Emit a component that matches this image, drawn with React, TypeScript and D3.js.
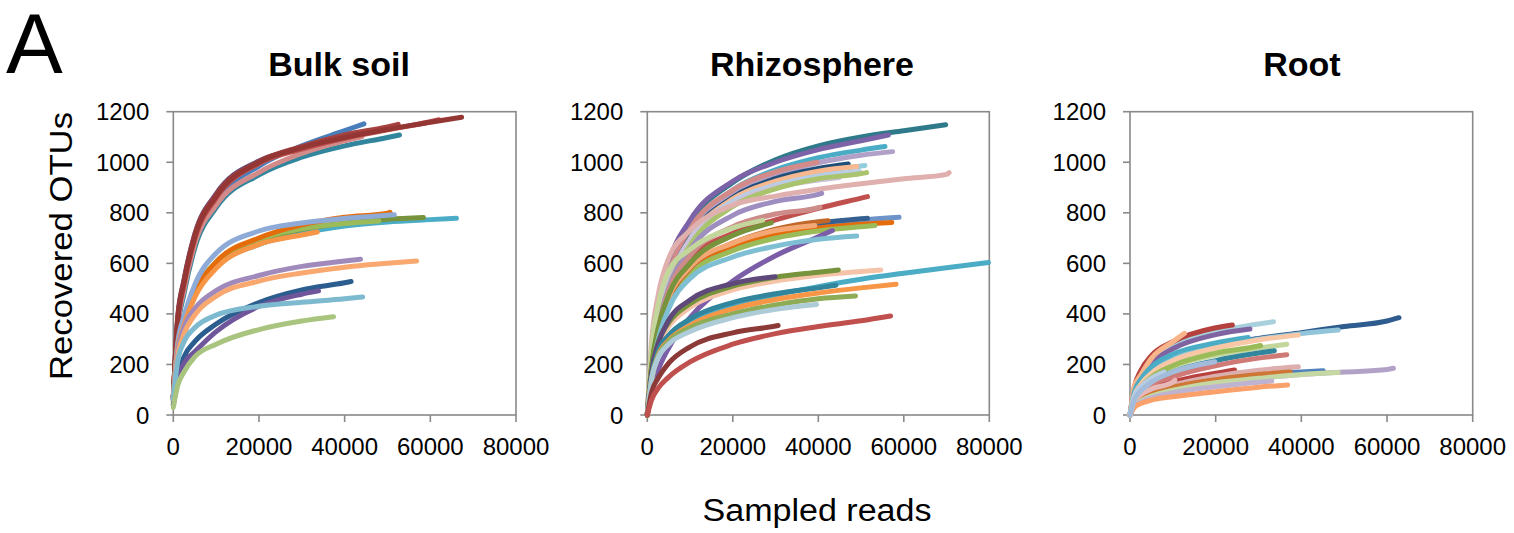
import { line, curveMonotoneX, scaleLinear } from "d3";

// sampled-read positions the curve values below are read at
const GRID = [0, 1000, 2500, 5000, 10000, 20000, 30000, 40000, 50000, 60000, 70000];

const X_TICKS = [0, 20000, 40000, 60000, 80000];
const Y_TICKS = [0, 200, 400, 600, 800, 1000, 1200];
const TITLES = ["Bulk soil", "Rhizosphere", "Root"];

// Bulk soil
const bulkEnds = [44500, 33000, 52800, 44000, 62000, 52500, 67300, 66100, 58400, 48000, 50600, 51600, 33600, 43700, 56800, 41500, 33900, 44200, 37400];
const bulkOtus = [
  [70, 340, 495, 680, 845, 985, 1065, 1125, 1152],
  [70, 380, 535, 715, 875, 1005, 1055, 1075],
  [70, 330, 480, 660, 820, 950, 1020, 1065, 1098, 1108],
  [70, 345, 495, 675, 830, 960, 1035, 1085, 1101],
  [70, 360, 515, 695, 858, 995, 1052, 1095, 1128, 1160, 1168],
  [70, 375, 530, 710, 870, 1002, 1062, 1108, 1140, 1150],
  [70, 370, 525, 705, 865, 1000, 1058, 1098, 1130, 1158, 1178],
  [60, 260, 360, 470, 585, 675, 720, 748, 764, 773, 778],
  [60, 265, 370, 485, 600, 690, 735, 760, 774, 781],
  [60, 270, 375, 490, 605, 695, 737, 758, 768],
  [60, 265, 370, 485, 605, 700, 752, 782, 798, 802],
  [60, 280, 390, 515, 640, 728, 760, 778, 790, 792],
  [50, 255, 355, 465, 580, 675, 712, 724],
  [60, 240, 345, 420, 492, 552, 588, 609, 616],
  [50, 225, 320, 395, 470, 530, 562, 585, 600, 609],
  [40, 150, 230, 290, 360, 445, 495, 523, 528],
  [40, 140, 205, 250, 330, 430, 478, 491],
  [60, 210, 290, 345, 395, 430, 446, 460, 467],
  [30, 115, 170, 230, 280, 338, 372, 389],
];
const bulkColors = ["#4a7ebb", "#604a7b", "#31859c", "#d38b89", "#c0504d", "#a5423f", "#943634", "#4bacc6", "#77933c", "#9bbb59", "#e46c0a", "#8eaad6", "#f79646", "#9f8abb", "#f9a86f", "#2c5d8f", "#6f559a", "#7dbad0", "#a9c47f"];

// Rhizosphere
const rhizoEnds = [69800, 56400, 55600, 57400, 39700, 47000, 50900, 49000, 49700, 45000, 51300, 70600, 40800, 51500, 40400, 27000, 58900, 51500, 57200, 53300, 42300, 39200, 29000, 43300, 49000, 79800, 54600, 44700, 29900, 44100, 58200, 48700, 39600, 30600, 56900];
const rhizoOtus = [
  [0, 235, 410, 585, 760, 920, 1010, 1065, 1100, 1125, 1148],
  [0, 240, 420, 600, 770, 925, 1000, 1050, 1085, 1108],
  [0, 220, 380, 550, 730, 890, 970, 1018, 1048, 1062],
  [0, 210, 370, 535, 710, 870, 950, 998, 1028, 1042],
  [0, 220, 385, 555, 735, 890, 962, 1000],
  [0, 200, 355, 520, 700, 860, 935, 975, 993],
  [0, 200, 355, 515, 690, 850, 920, 960, 985, 987],
  [0, 205, 360, 520, 695, 855, 925, 965, 983],
  [0, 210, 365, 525, 695, 845, 910, 945, 963],
  [0, 215, 370, 525, 690, 835, 900, 930, 940],
  [0, 195, 345, 500, 670, 825, 895, 935, 955, 959],
  [0, 290, 470, 620, 730, 830, 866, 893, 915, 935, 952, 959],
  [0, 200, 350, 500, 655, 790, 845, 873, 877],
  [0, 180, 330, 470, 613, 719, 772, 818, 858, 864],
  [0, 190, 340, 490, 630, 745, 795, 820, 822],
  [0, 260, 430, 570, 655, 740, 770],
  [0, 170, 305, 430, 560, 665, 715, 748, 770, 782],
  [0, 175, 310, 440, 570, 675, 725, 758, 776, 778],
  [0, 180, 320, 450, 575, 670, 715, 740, 755, 762],
  [0, 170, 305, 430, 555, 650, 700, 728, 745, 750],
  [0, 185, 325, 455, 580, 680, 735, 765, 769],
  [0, 190, 335, 465, 585, 680, 730, 750],
  [0, 195, 340, 475, 600, 710, 760],
  [0, 90, 175, 265, 385, 530, 630, 705, 730],
  [0, 165, 295, 420, 540, 625, 668, 695, 708],
  [0, 150, 257, 310, 369, 435, 475, 508, 537, 561, 583, 603],
  [0, 170, 275, 350, 425, 495, 530, 553, 568, 574],
  [0, 175, 285, 365, 440, 510, 545, 565, 574],
  [0, 170, 280, 375, 455, 520, 547],
  [0, 150, 250, 315, 380, 445, 480, 503, 513],
  [0, 140, 235, 295, 355, 420, 457, 483, 503, 517],
  [0, 140, 230, 290, 345, 400, 435, 460, 471],
  [0, 140, 225, 280, 330, 385, 418, 437],
  [0, 90, 145, 205, 270, 325, 352, 354],
  [0, 60, 105, 150, 210, 280, 322, 350, 373, 392],
];
const rhizoColors = ["#2e7a8a", "#7c62a6", "#4bacc6", "#b1a0c7", "#d38b89", "#1f4e79", "#93cddd", "#f8b990", "#b9cde5", "#ccc1da", "#a9c46c", "#e0b0ae", "#9e8dc0", "#c0504d", "#cd8c8a", "#c3d69b", "#6e93c9", "#376092", "#e46c0a", "#9bbb59", "#c0682a", "#f4a875", "#77933c", "#7b5ea7", "#7fbfd4", "#4bacc6", "#f5c4a8", "#77933c", "#5f497a", "#31859c", "#f79646", "#8eab55", "#aecbd8", "#8b3a38", "#c0504d"];

// Root
const rootEnds = [62800, 48600, 33500, 23900, 28000, 12700, 27600, 39300, 36600, 30500, 33700, 36600, 24400, 39300, 61500, 45100, 37400, 48600, 33100, 36800, 10500, 8000, 19800];
const rootOtus = [
  [0, 75, 120, 165, 215, 270, 303, 326, 350, 372, 385],
  [0, 80, 125, 170, 220, 270, 300, 322, 336],
  [0, 100, 160, 215, 275, 330, 360, 369],
  [0, 110, 175, 235, 290, 345, 356],
  [0, 95, 150, 205, 262, 318, 340],
  [0, 112, 158, 224, 290, 323],
  [0, 90, 140, 190, 240, 285, 307],
  [0, 75, 120, 165, 215, 265, 297, 316],
  [0, 65, 105, 145, 190, 237, 265, 280],
  [0, 70, 110, 150, 195, 245, 273, 275],
  [0, 60, 95, 130, 170, 215, 245, 254],
  [0, 50, 80, 112, 150, 195, 225, 238],
  [0, 45, 72, 100, 130, 165, 178],
  [0, 40, 65, 90, 118, 153, 177, 191],
  [0, 35, 55, 75, 98, 127, 145, 160, 170, 180, 185],
  [0, 38, 60, 82, 108, 138, 157, 170, 175],
  [0, 40, 62, 85, 110, 140, 160, 170],
  [0, 35, 55, 75, 98, 128, 145, 160, 168],
  [0, 33, 50, 68, 88, 112, 130, 134],
  [0, 30, 45, 59, 72, 92, 110, 119],
  [0, 55, 80, 103, 130, 138],
  [0, 75, 110, 145, 170],
  [0, 60, 95, 130, 170, 211],
];
const rootColors = ["#2e5c8e", "#92c5da", "#a8d0dd", "#b4413e", "#8064a2", "#f9b58a", "#4bacc6", "#f8c7a5", "#c3d69b", "#9bbb59", "#31859c", "#cf7a77", "#b8403e", "#dcafae", "#b3a2c7", "#4f81bd", "#d07634", "#c5d8a4", "#beb3d1", "#f9a06b", "#e6b9b8", "#b9cde5", "#a3bcdb"];

const FONT = "'Liberation Sans', Arial, sans-serif";
const AXIS = "#898989";
const TOP = 111.7;
const BOTTOM = 415;

const toPoints = (end: number, vals: number[]): [number, number][] => {
  const xs = GRID.filter((g) => g < end);
  const pts: [number, number][] = xs.map((g, i) => [g, vals[i]]);
  pts.push([end, vals[vals.length - 1]]);
  return pts;
};

type PanelProps = {
  left: number;
  right: number;
  title: string;
  titleX: number;
  ends: number[];
  otus: number[][];
  colors: string[];
};

const Panel = ({ left, right, title, titleX, ends, otus, colors }: PanelProps) => {
  const x = scaleLinear().domain([0, 80000]).range([left, right]);
  const y = scaleLinear().domain([0, 1200]).range([BOTTOM, TOP]);
  const path = line<[number, number]>()
    .x((d) => x(d[0]))
    .y((d) => y(d[1]))
    .curve(curveMonotoneX);

  return (
    <g>
      <text x={titleX} y={76} textAnchor="middle" fontSize={34} fontWeight="bold" fontFamily={FONT}>
        {title}
      </text>
      <rect x={left} y={TOP} width={right - left} height={BOTTOM - TOP} fill="none" stroke={AXIS} strokeWidth={1.6} />
      {Y_TICKS.map((t) => (
        <g key={`y-${t}`}>
          <line x1={left - 7} x2={left} y1={y(t)} y2={y(t)} stroke={AXIS} strokeWidth={1.6} />
          <text x={left - 24} y={y(t) + 8.5} textAnchor="end" fontSize={24} fontFamily={FONT}>
            {t}
          </text>
        </g>
      ))}
      {X_TICKS.map((t) => (
        <g key={`x-${t}`}>
          <line x1={x(t)} x2={x(t)} y1={BOTTOM} y2={BOTTOM + 7} stroke={AXIS} strokeWidth={1.6} />
          <text x={x(t)} y={455} textAnchor="middle" fontSize={24} fontFamily={FONT}>
            {t}
          </text>
        </g>
      ))}
      {ends.map((end, i) => (
        <path
          key={`s-${i}`}
          d={path(toPoints(end, otus[i])) ?? ""}
          fill="none"
          stroke={colors[i]}
          strokeWidth={5}
          strokeLinecap="round"
          strokeLinejoin="round"
        />
      ))}
    </g>
  );
};

const App = () => {
  return (
    <svg width={1514} height={533} style={{ position: "absolute", left: 0, top: 0, background: "#fff" }}>
      <rect width={1514} height={533} fill="#fff" />
      <text x={6} y={73} fontSize={85} fontFamily={FONT}>
        A
      </text>
      <text
        transform="translate(72,246) rotate(-90)"
        textAnchor="middle"
        fontSize={32}
        fontFamily={FONT}
        textLength={268}
        lengthAdjust="spacingAndGlyphs"
      >
        Recovered OTUs
      </text>
      <text x={817} y={521} textAnchor="middle" fontSize={31} fontFamily={FONT} textLength={229} lengthAdjust="spacingAndGlyphs">
        Sampled reads
      </text>
      <Panel left={173.3} right={516} title={TITLES[0]} titleX={339} ends={bulkEnds} otus={bulkOtus} colors={bulkColors} />
      <Panel left={647.3} right={989.3} title={TITLES[1]} titleX={812} ends={rhizoEnds} otus={rhizoOtus} colors={rhizoColors} />
      <Panel left={1130} right={1472.7} title={TITLES[2]} titleX={1302} ends={rootEnds} otus={rootOtus} colors={rootColors} />
    </svg>
  );
};

export default App;
